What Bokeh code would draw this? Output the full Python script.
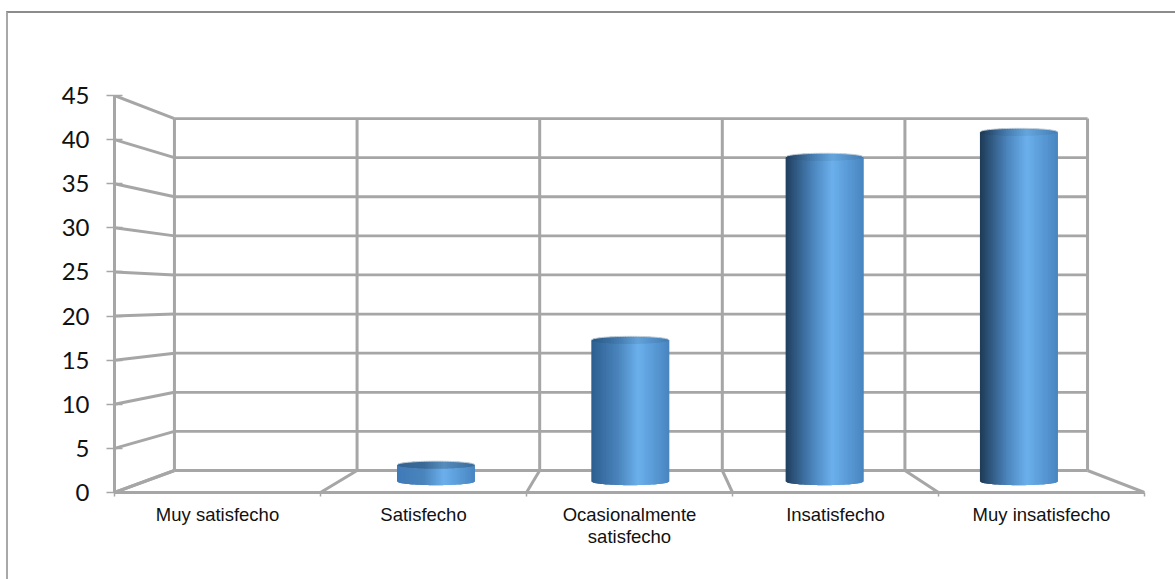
import numpy as np
from bokeh.embed import file_html
from bokeh.models import FixedTicker, InlineStyleSheet, Range1d
from bokeh.plotting import figure
from bokeh.resources import INLINE

categories = ["Muy satisfecho", "Satisfecho", "Ocasionalmente\nsatisfecho", "Insatisfecho", "Muy insatisfecho"]
values = [0, 2, 17, 39, 42]
y_ticks = [0, 5, 10, 15, 20, 25, 30, 35, 40, 45]
edge_shades = ["#1e3a56", "#3f7ab8", "#2c5f90", "#203f5f", "#1e3a56"]
cap_dims = [1.0, 0.8, 0.92, 0.94, 0.94]

GRID = "#a6a6a6"
DEPTH_SCALE = 0.1135   # shrink of the far plane relative to the near one
DEPTH_DX = 0.291       # far-plane shift along x, in category units
DEPTH_DY = 2.494       # far-plane shift along y, in value units


def project(x, y, d):
    """Oblique projection of a point at depth d (0 near, 1 far) onto the front plane."""
    s = 1 - DEPTH_SCALE * d
    return x * s + DEPTH_DX * d, y * s + DEPTH_DY * d


def hex_rgb(c):
    return np.array([int(c[i:i + 2], 16) for i in (1, 3, 5)], dtype=float)


def shade(t, edge, dim=1.0):
    """Horizontal cylinder shading: dark edge, bright band right of centre."""
    pos = [0.0, 0.35, 0.6, 1.0]
    cols = [hex_rgb(edge), hex_rgb("#4b85bd"), hex_rgb("#6bb0ec"), hex_rgb("#4885c0")]
    rgb = [np.interp(t, pos, [c[k] for c in cols]) * dim for k in range(3)]
    return "#%02x%02x%02x" % tuple(int(round(v)) for v in rgb)


# Chart-area border: only its top and left edges fall inside the page
border = InlineStyleSheet(css="""
:host::after {
  content: "";
  position: absolute;
  left: 6px; top: 11px; right: 0; bottom: 0;
  border-left: 2px solid #a8a8a8;
  border-top: 2px solid #8c8c8c;
  pointer-events: none;
  z-index: 10;
}
""")

p = figure(
    width=1175, height=579, output_backend="svg", toolbar_location=None,
    x_range=Range1d(0, 5), y_range=Range1d(0, 45),
    min_border_left=114, min_border_right=31, min_border_top=95, min_border_bottom=87,
    outline_line_color=None, stylesheets=[border],
)
p.grid.visible = False

# Value axis
ya = p.yaxis[0]
ya.ticker = FixedTicker(ticks=y_ticks)
ya.axis_line_color = GRID
ya.axis_line_width = 3
ya.major_tick_line_color = GRID
ya.major_tick_line_width = 1.5
ya.major_tick_in = 8
ya.major_tick_out = 8
ya.minor_tick_line_color = None
ya.major_label_text_font = "Lato"
ya.major_label_text_font_size = "24px"
ya.major_label_text_color = "#111111"
ya.major_label_standoff = 17

# Category axis: labels sit between the floor ticks
xa = p.xaxis[0]
centres = [i + 0.5 for i in range(len(categories))]
xa.ticker = FixedTicker(ticks=centres, minor_ticks=list(range(len(categories) + 1)))
xa.major_label_overrides = {c: name for c, name in zip(centres, categories)}
xa.axis_line_color = GRID
xa.axis_line_width = 3
xa.major_tick_line_color = None
xa.minor_tick_line_color = GRID
xa.minor_tick_line_width = 1.5
xa.minor_tick_out = 4
xa.minor_tick_in = 0
xa.major_label_text_font = "Liberation Sans"
xa.major_label_text_font_size = "18.5px"
xa.major_label_text_color = "#111111"
xa.major_label_text_line_height = 1.05
xa.major_label_standoff = 5

# Side wall and back wall rulings at each value tick
side = [(project(0, v, 0), project(0, v, 1)) for v in y_ticks]
back = [(project(0, v, 1), project(len(categories), v, 1)) for v in y_ticks]
for pairs, width in ((side, 3), (back, 2.8)):
    p.segment([a[0] for a, b in pairs], [a[1] for a, b in pairs],
              [b[0] for a, b in pairs], [b[1] for a, b in pairs],
              line_color=GRID, line_width=width)

# Floor rulings and back-wall verticals at each category boundary
edges = range(len(categories) + 1)
floor = [(project(i, 0, 0), project(i, 0, 1)) for i in edges]
vert = [(project(i, 0, 1), project(i, y_ticks[-1], 1)) for i in edges]
for pairs in (floor, vert):
    p.segment([a[0] for a, b in pairs], [a[1] for a, b in pairs],
              [b[0] for a, b in pairs], [b[1] for a, b in pairs],
              line_color=GRID, line_width=3)

# Cylinders, built from thin overlapping vertical strips to carry the shading
STRIPS = 48
HALF_WIDTH = 0.189
ELLIPSE = 0.42
for i, (val, edge, dim) in enumerate(zip(values, edge_shades, cap_dims)):
    if val <= 0:
        continue
    cx, y0 = project(i + 0.5, 0, 0.5)
    _, y1 = project(i + 0.5, val, 0.5)
    ts = np.linspace(-1, 1, STRIPS + 1)
    arc = ELLIPSE * np.sqrt(1 - ts ** 2)
    xs = cx + HALF_WIDTH * ts
    body_x, body_y, body_c, cap_x, cap_y, cap_c = [], [], [], [], [], []
    for k in range(STRIPS):
        t = (k + 0.5) / STRIPS
        # each strip reaches over its neighbour so no seam shows between them
        n = min(k + 2, STRIPS)
        a, b = xs[k], xs[n]
        body_x.append([a, xs[k + 1], b, b, a])
        body_y.append([y0 - arc[k], y0 - arc[k + 1], y0 - arc[n], y1, y1])
        body_c.append(shade(t, edge))
        cap_x.append([a, xs[k + 1], b, b, xs[k + 1], a])
        cap_y.append([y1 - arc[k], y1 - arc[k + 1], y1 - arc[n], y1 + arc[n], y1 + arc[k + 1], y1 + arc[k]])
        cap_c.append(shade(t, edge, dim))
    p.patches(body_x, body_y, fill_color=body_c, line_color=None)
    p.patches(cap_x, cap_y, fill_color=cap_c, line_color=None)
    p.line(xs, y1 + arc, line_color="#ccd4db", line_width=1.0)

open("out.html", "w").write(file_html(p, INLINE))
